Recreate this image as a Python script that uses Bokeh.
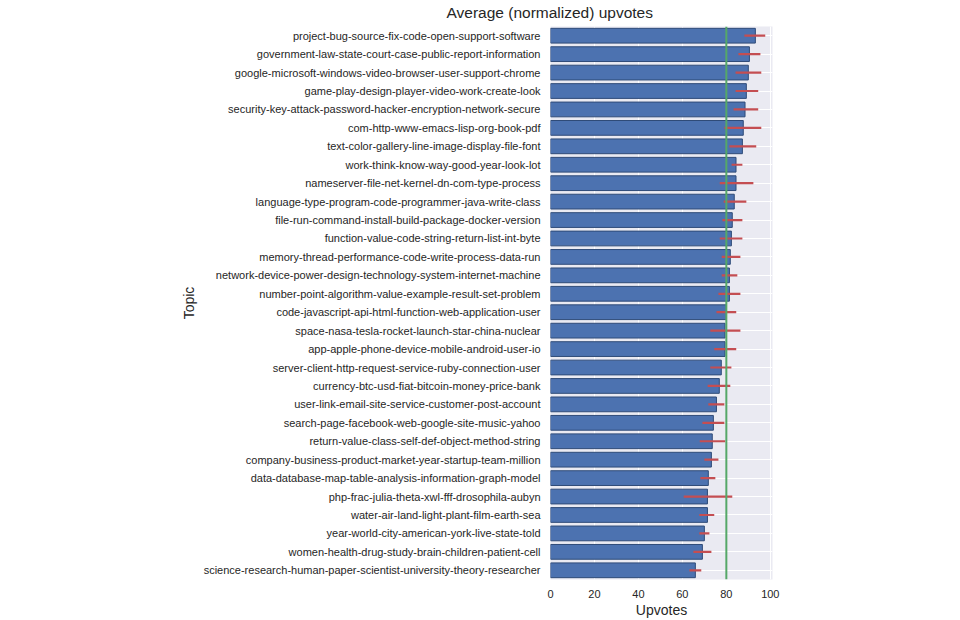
from bokeh.plotting import figure
from bokeh.models import FactorRange, Span, Range1d, FixedTicker
from bokeh.embed import file_html
from bokeh.resources import INLINE

topics = [
    "project-bug-source-fix-code-open-support-software",
    "government-law-state-court-case-public-report-information",
    "google-microsoft-windows-video-browser-user-support-chrome",
    "game-play-design-player-video-work-create-look",
    "security-key-attack-password-hacker-encryption-network-secure",
    "com-http-www-emacs-lisp-org-book-pdf",
    "text-color-gallery-line-image-display-file-font",
    "work-think-know-way-good-year-look-lot",
    "nameserver-file-net-kernel-dn-com-type-process",
    "language-type-program-code-programmer-java-write-class",
    "file-run-command-install-build-package-docker-version",
    "function-value-code-string-return-list-int-byte",
    "memory-thread-performance-code-write-process-data-run",
    "network-device-power-design-technology-system-internet-machine",
    "number-point-algorithm-value-example-result-set-problem",
    "code-javascript-api-html-function-web-application-user",
    "space-nasa-tesla-rocket-launch-star-china-nuclear",
    "app-apple-phone-device-mobile-android-user-io",
    "server-client-http-request-service-ruby-connection-user",
    "currency-btc-usd-fiat-bitcoin-money-price-bank",
    "user-link-email-site-service-customer-post-account",
    "search-page-facebook-web-google-site-music-yahoo",
    "return-value-class-self-def-object-method-string",
    "company-business-product-market-year-startup-team-million",
    "data-database-map-table-analysis-information-graph-model",
    "php-frac-julia-theta-xwl-fff-drosophila-aubyn",
    "water-air-land-light-plant-film-earth-sea",
    "year-world-city-american-york-live-state-told",
    "women-health-drug-study-brain-children-patient-cell",
    "science-research-human-paper-scientist-university-theory-researcher",
]
upvotes = [93.2, 90.5, 90.0, 89.1, 88.5, 87.7, 87.3, 84.4, 84.4, 83.6,
           82.7, 82.3, 81.8, 81.4, 81.4, 80.0, 79.4, 79.4, 77.7, 76.8,
           75.5, 74.1, 73.6, 73.2, 71.8, 71.4, 71.4, 70.0, 69.1, 65.9]
err_low = [88.2, 85.5, 84.2, 84.2, 83.3, 79.1, 81.4, 82.4, 77.0, 78.8,
           78.2, 77.0, 77.9, 77.9, 76.4, 75.5, 72.7, 74.5, 72.7, 71.5,
           71.8, 69.1, 67.9, 70.0, 68.2, 60.6, 67.7, 67.7, 65.0, 63.2]
err_high = [97.7, 95.5, 95.9, 94.5, 94.5, 95.9, 93.6, 87.3, 92.3, 89.1,
            87.3, 87.3, 86.4, 85.0, 86.4, 84.5, 86.4, 84.5, 82.3, 81.8,
            79.1, 79.1, 79.5, 76.4, 75.0, 82.7, 74.5, 72.3, 73.2, 68.6]
x_ticks = [0, 20, 40, 60, 80, 100]
overall_mean = 80

FONT = "Liberation Sans"
TXT = "#262626"

p = figure(
    width=944, height=620,
    y_range=FactorRange(factors=list(reversed(topics))),
    x_range=Range1d(0, 101),
    output_backend="svg", toolbar_location=None,
    title="Average (normalized) upvotes",
    min_border_left=550, min_border_right=172, min_border_top=25, min_border_bottom=34,
)
p.title.text_font = FONT
p.title.text_font_size = "15.5px"
p.title.text_font_style = "normal"
p.title.text_color = TXT
p.title.align = "left"
p.title.offset = -104
p.title.standoff = 7
p.title.vertical_align = "top"

p.background_fill_color = "#EAEAF2"
p.border_fill_color = "white"
p.outline_line_color = None

p.xgrid.grid_line_color = "white"
p.xgrid.grid_line_width = 1
p.ygrid.grid_line_color = "white"
p.ygrid.grid_line_width = 1
p.xaxis.ticker = FixedTicker(ticks=x_ticks)

for ax in (p.xaxis[0], p.yaxis[0]):
    ax.axis_line_color = None
    ax.major_tick_line_color = None
    ax.minor_tick_line_color = None
    ax.major_label_text_font = FONT
    ax.major_label_text_font_size = "11px"
    ax.major_label_text_color = TXT
    ax.axis_label_text_font = FONT
    ax.axis_label_text_font_size = "14px"
    ax.axis_label_text_font_style = "normal"
    ax.axis_label_text_color = TXT

p.xaxis.axis_label = "Upvotes"
p.yaxis.axis_label = "Topic"
p.xaxis.major_label_standoff = 4
p.xaxis.axis_label_standoff = 1
p.yaxis.major_label_standoff = 4
p.yaxis.axis_label_standoff = 4

p.hbar(y=topics, left=0, right=upvotes, height=0.8,
       fill_color="#4C72B0", line_color="#2f4b78", line_width=1)
p.segment(x0=err_low, y0=topics, x1=err_high, y1=topics,
          line_color="#C44E52", line_width=2.2)
p.add_layout(Span(location=overall_mean, dimension="height",
                  line_color="#55A868", line_width=2))

open("out.html", "w").write(file_html(p, INLINE))
